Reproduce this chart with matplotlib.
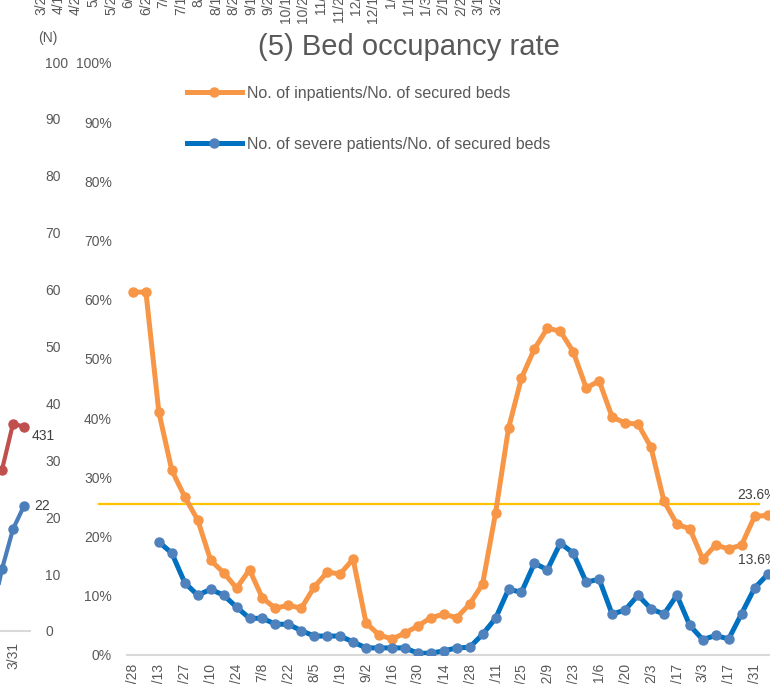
import numpy as np
import matplotlib
matplotlib.use('Agg')
import matplotlib.pyplot as plt

plt.rcParams['font.family'] = ['Liberation Sans', 'DejaVu Sans']

# ---- data ----
week_labels = ["4/28", "5/6", "5/13", "5/20", "5/27", "6/3", "6/10", "6/17", "6/24", "7/1",
               "7/8", "7/15", "7/22", "7/29", "8/5", "8/12", "8/19", "8/26", "9/2", "9/9",
               "9/16", "9/23", "9/30", "10/7", "10/14", "10/21", "10/28", "11/4", "11/11", "11/18",
               "11/25", "12/2", "12/9", "12/16", "12/23", "12/30", "1/6", "1/13", "1/20", "1/27",
               "2/3", "2/10", "2/17", "2/24", "3/3", "3/10", "3/17", "3/24", "3/31", "4/7"]

inpatient_rate = [61.3, 61.3, 41.0, 31.2, 26.7, 22.8, 16.0, 13.9, 11.3, 14.4,
                  9.6, 7.9, 8.4, 7.9, 11.5, 14.0, 13.7, 16.2, 5.4, 3.4,
                  2.7, 3.7, 4.9, 6.3, 6.9, 6.3, 8.6, 12.0, 24.0, 38.3,
                  46.8, 51.7, 55.2, 54.7, 51.2, 45.1, 46.3, 40.2, 39.2, 39.0,
                  35.1, 26.0, 22.1, 21.3, 16.2, 18.6, 17.9, 18.6, 23.4, 23.6]

severe_rate = [np.nan, np.nan, 19.1, 17.2, 12.2, 10.1, 11.1, 10.1, 8.1, 6.2,
               6.2, 5.2, 5.2, 4.1, 3.2, 3.2, 3.2, 2.2, 1.2, 1.2,
               1.2, 1.2, 0.3, 0.3, 0.7, 1.2, 1.3, 3.5, 6.2, 11.1,
               10.6, 15.5, 14.4, 18.9, 17.2, 12.3, 12.8, 6.9, 7.6, 10.1,
               7.8, 6.9, 10.1, 5.0, 2.6, 3.3, 2.7, 7.0, 11.3, 13.6]

threshold = 25.5

# neighbouring chart on the left (only its right edge is visible)
left_labels = ["3/17", "3/24", "3/31", "4/7"]
left_severe = [2, 10.9, 17.9, 22]
left_inpatients = [330, 340, 437, 431]

# x labels of the chart above (cut off by the top edge)
top_labels = ["3/28", "4/11", "4/25", "5/9", "5/23", "6/6", "6/20", "7/4", "7/18", "8/1",
              "8/15", "8/29", "9/12", "9/26", "10/10", "10/24", "11/7", "11/21", "12/5", "12/19",
              "1/2", "1/16", "1/30", "2/13", "2/27", "3/13", "3/27"]

W, H = 770, 684
grey = '#595959'


def px_box(x0, y0, x1, y1):
    return [x0 / W, 1 - y1 / H, (x1 - x0) / W, (y1 - y0) / H]


def clean(ax):
    for s in ax.spines.values():
        s.set_visible(False)
    ax.set_facecolor('none')


fig = plt.figure(figsize=(W / 100, H / 100), dpi=100)

# ---- chart above: only the tick labels hang into view ----
ax_top = fig.add_axes(px_box(32.25, -60, 504.75, -16))
clean(ax_top)
ax_top.set_xlim(-0.5, len(top_labels) - 0.5)
ax_top.set_xticks(range(len(top_labels)))
ax_top.set_xticklabels(top_labels, rotation=90, fontsize=10, color=grey)
ax_top.set_yticks([])
ax_top.tick_params(length=0, pad=3)

# ---- chart on the left ----
ax_l = fig.add_axes(px_box(-14.5, 62, 30, 631))
ax_l2 = ax_l.twinx()
clean(ax_l)
clean(ax_l2)
ax_l.spines['bottom'].set_visible(True)
ax_l.spines['bottom'].set_color('#D9D9D9')
ax_l.spines['bottom'].set_linewidth(1.5)

xl = np.arange(len(left_labels))
ax_l.plot(xl, left_severe, color='#4A7EBB', lw=3, marker='o', ms=6.5, zorder=3)
ax_l.set_xlim(-0.5, 3.545)
ax_l.set_ylim(0, 100)
ax_l.yaxis.tick_right()
ax_l.set_yticks(range(0, 101, 10))
ax_l.tick_params(axis='y', length=0, pad=11, labelsize=10, labelcolor=grey)
ax_l.set_xticks(xl[::2])
ax_l.set_xticklabels(left_labels[::2], rotation=90)
ax_l.tick_params(axis='x', length=0, pad=8, labelsize=10, labelcolor=grey)
ax_l.annotate(str(left_severe[-1]), (xl[-1], left_severe[-1]), xytext=(10, 0),
              textcoords='offset pixels', ha='left', va='center', fontsize=10,
              color='#404040', annotation_clip=False)

ax_l2.plot(xl, left_inpatients, color='#C0504D', lw=3, marker='o', ms=6.5)
ax_l2.set_ylim(0, 1200)
ax_l2.set_yticks([])
ax_l2.annotate(str(left_inpatients[-1]), (xl[-1], left_inpatients[-1]), xytext=(8, -9),
               textcoords='offset pixels', ha='left', va='center', fontsize=10,
               color='#404040', annotation_clip=False)

fig.text(48 / W, 1 - 38 / H, '(N)', ha='center', va='center', fontsize=10, color=grey)

# ---- main chart ----
step = 12.95
ax = fig.add_axes(px_box(126.5, 63, 126.5 + 50.5 * step, 655))
clean(ax)
ax.spines['bottom'].set_visible(True)
ax.spines['bottom'].set_color('#D9D9D9')
ax.spines['bottom'].set_linewidth(1.5)

x = np.arange(len(week_labels))
ax.plot([-2.6, 48.35], [threshold, threshold], color='#FFC000', lw=1.6,
        clip_on=False, zorder=1)
ax.plot(x, inpatient_rate, color='#F79646', lw=3.6, marker='o', ms=6.5,
        label='No. of inpatients/No. of secured beds', zorder=3)
ax.plot(x, severe_rate, color='#0070C0', lw=3.6, marker='o', ms=6.5,
        mfc='#4F81BD', mec='#4F81BD', label='No. of severe patients/No. of secured beds',
        zorder=3)

ax.set_xlim(-0.5, 50)
ax.set_ylim(0, 100)
ax.set_yticks(range(0, 101, 10))
ax.set_yticklabels([f'{v}%' for v in range(0, 101, 10)])
ax.tick_params(axis='y', length=0, pad=10.5, labelsize=10, labelcolor=grey)
ax.set_xticks(x[::2])
ax.set_xticklabels(week_labels[::2], rotation=90)
ax.tick_params(axis='x', length=0, pad=5.8, labelsize=10, labelcolor=grey)

ax.annotate(f'{inpatient_rate[-1]}%', (x[-1], inpatient_rate[-1]), xytext=(-30, 20),
            textcoords='offset pixels', ha='left', va='center', fontsize=10,
            color='#404040', annotation_clip=False)
ax.annotate(f'{severe_rate[-1]}%', (x[-1], severe_rate[-1]), xytext=(-30, 14),
            textcoords='offset pixels', ha='left', va='center', fontsize=10,
            color='#404040', annotation_clip=False)

leg = ax.legend(loc='upper left', bbox_to_anchor=(187 / W, 1 - 86 / H),
                bbox_transform=fig.transFigure, frameon=False, fontsize=11.5,
                handlelength=3.44, handletextpad=0.31, labelspacing=2.25,
                borderpad=0, borderaxespad=0)
for t in leg.get_texts():
    t.set_color(grey)

fig.text(409 / W, 1 - 47 / H, '(5) Bed occupancy rate', ha='center', va='center',
         fontsize=21, color=grey)

fig.savefig('out.png', dpi=100)
